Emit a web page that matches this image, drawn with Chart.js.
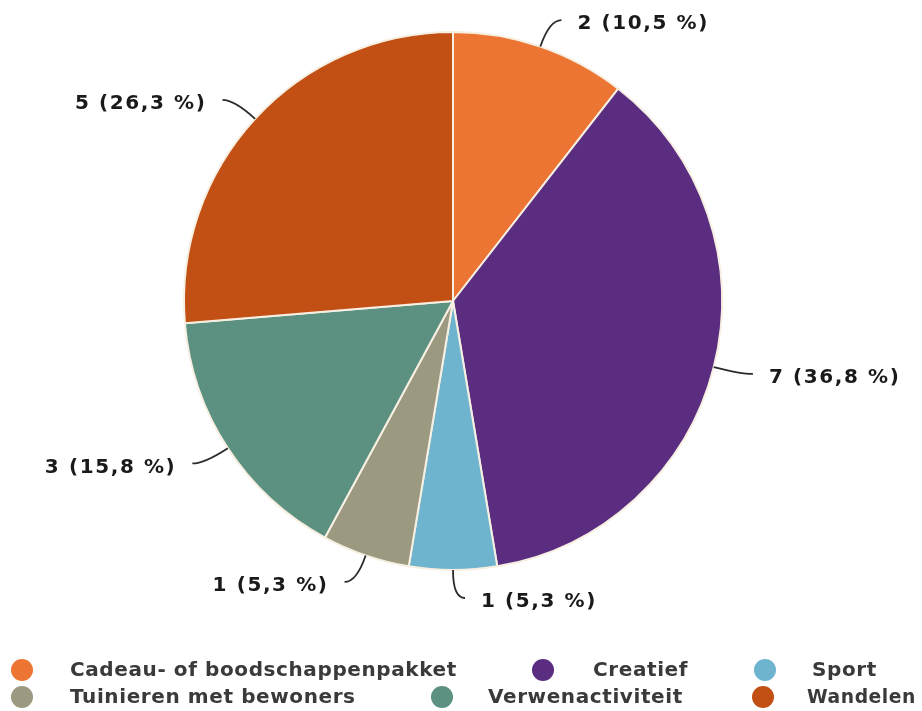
<!DOCTYPE html>
<html>
<head>
<meta charset="utf-8">
<script src="https://cdn.jsdelivr.net/npm/chart.js@4"></script>
<style>
    html, body { margin: 0; padding: 0; background: #ffffff; }
    #wrap { width: 922px; height: 711px; }
</style>
</head>
<body>
<div id="wrap"><canvas id="pieChart" width="922" height="711"></canvas></div>
<script>
// Data
const categories = [
    'Cadeau- of boodschappenpakket',
    'Creatief',
    'Sport',
    'Tuinieren met bewoners',
    'Verwenactiviteit',
    'Wandelen'
];
const counts = [2, 7, 1, 1, 3, 5];
const sliceColors = ['#ec7533', '#5a2d81', '#6eb4cf', '#9b9a81', '#5c9080', '#c24f13'];

// Legend grid: where each entry sits (row, circle x, text x)
const legendSlots = [
    { y: 670, cx: 22, tx: 70 },
    { y: 670, cx: 543, tx: 593 },
    { y: 670, cx: 765, tx: 812 },
    { y: 697, cx: 22, tx: 70 },
    { y: 697, cx: 442, tx: 488 },
    { y: 697, cx: 763, tx: 807 }
];

const total = counts.reduce((a, b) => a + b, 0);

function labelText(v) {
    const pct = (v / total * 100).toFixed(1).replace('.', ',');
    return `${v} (${pct} %)`;
}

// Outside labels with curved leader lines
const outsideLabels = {
    id: 'outsideLabels',
    afterDatasetsDraw(chart) {
        const ctx = chart.ctx;
        const meta = chart.getDatasetMeta(0);
        ctx.save();
        ctx.font = 'bold 20px "DejaVu Sans", Verdana, sans-serif';
        ctx.letterSpacing = '1.6px';
        ctx.textBaseline = 'middle';
        meta.data.forEach((arc, i) => {
            const p = arc.getProps(['x', 'y', 'startAngle', 'endAngle', 'outerRadius'], true);
            const mid = (p.startAngle + p.endAngle) / 2;
            const dx = Math.cos(mid), dy = Math.sin(mid);
            const side = dx >= -0.01 ? 1 : -1;
            const x0 = p.x + p.outerRadius * dx, y0 = p.y + p.outerRadius * dy;
            const x1 = p.x + (p.outerRadius + 28) * dx, y1 = p.y + (p.outerRadius + 28) * dy;
            const x2 = x1 + side * 12, y2 = y1;

            ctx.strokeStyle = '#2a2a2a';
            ctx.lineWidth = 1.8;
            ctx.beginPath();
            ctx.moveTo(x0, y0);
            ctx.quadraticCurveTo(x1, y1, x2, y2);
            ctx.stroke();

            ctx.fillStyle = '#1a1a1a';
            ctx.textAlign = side > 0 ? 'left' : 'right';
            ctx.fillText(labelText(counts[i]), x2 + side * 16, y2 + 4);
        });
        ctx.restore();
    }
};

// Legend drawn under the pie
const bottomLegend = {
    id: 'bottomLegend',
    afterDraw(chart) {
        const ctx = chart.ctx;
        ctx.save();
        ctx.font = 'bold 20px "DejaVu Sans", Verdana, sans-serif';
        ctx.letterSpacing = '0.6px';
        ctx.textBaseline = 'middle';
        ctx.textAlign = 'left';
        categories.forEach((name, i) => {
            const slot = legendSlots[i];
            ctx.fillStyle = sliceColors[i];
            ctx.beginPath();
            ctx.arc(slot.cx, slot.y, 11, 0, Math.PI * 2);
            ctx.fill();
            ctx.fillStyle = '#3a3a3a';
            ctx.fillText(name, slot.tx, slot.y + 1, 922 - slot.tx - 6);
        });
        ctx.restore();
    }
};

document.addEventListener('DOMContentLoaded', () => {
    const ctx = document.getElementById('pieChart').getContext('2d');
    new Chart(ctx, {
        type: 'pie',
        data: {
            labels: categories,
            datasets: [{
                data: counts,
                backgroundColor: sliceColors,
                borderColor: '#f7efe2',
                borderWidth: 2
            }]
        },
        options: {
            responsive: false,
            animation: false,
            layout: {
                padding: { top: 31, bottom: 140, left: 183, right: 199 }
            },
            plugins: {
                legend: { display: false },
                tooltip: { enabled: false }
            }
        },
        plugins: [outsideLabels, bottomLegend]
    });
});
</script>
</body>
</html>
